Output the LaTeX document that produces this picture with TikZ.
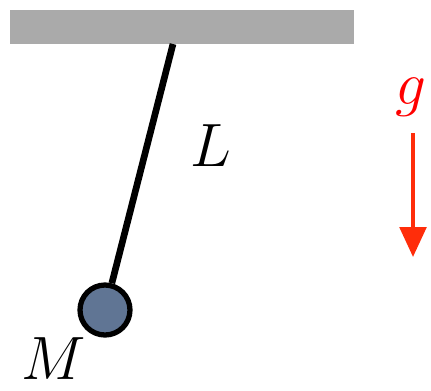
\documentclass[tikz,border=0pt]{standalone}
\usepackage{tikz}
\usetikzlibrary{arrows.meta, positioning, calc}
\usepackage{xcolor}
\definecolor{CEIL}{RGB}{170,170,170}
\definecolor{BOB}{RGB}{96,117,148}
\definecolor{GR}{RGB}{255,0,0}
\definecolor{GA}{RGB}{255,45,10}
\begin{document}
\begin{tikzpicture}[x=0.02cm, y=-0.02cm,
  ceil/.style={fill=CEIL, draw=none, minimum width=6.88cm, minimum height=0.68cm, inner sep=0pt},
  bob/.style={circle, draw=black, line width=3pt, fill=BOB, minimum size=1.0cm, inner sep=0pt},
  rod/.style={line width=3.8pt, draw=black},
  lbl/.style={font=\Huge, scale=1.4, inner sep=0pt},
  arr/.style={-{Triangle[length=17pt, width=15pt]}, line width=2.4pt, draw=GA}
]
\useasboundingbox (0,0) rectangle (431,390);
% Ceiling and bob
\node[ceil] (ceiling) at (182,27) {};
\node[bob]  (mass)    at (105,310) {};
\coordinate (pivot) at (173,44);
\draw[rod] (pivot) -- (mass);

% Labels
\node[lbl] (len)  at (211,146) {$L$};
\node[lbl] (mlab) at (54,359)  {$M$};
\node[lbl, text=GR] (glab) at (411,97) {$g$};

% Gravity arrow
\coordinate (gtop) at (413,133);
\coordinate (gbot) at (413,257);
\draw[arr] (gtop) -- (gbot);
\end{tikzpicture}
\end{document}
